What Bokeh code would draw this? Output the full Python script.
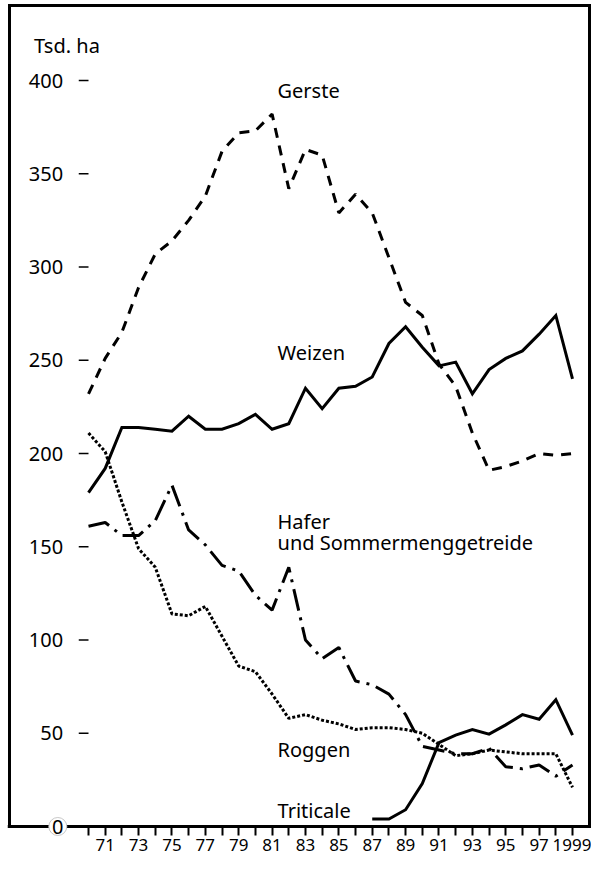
from bokeh.plotting import figure
from bokeh.models import Range1d, FixedTicker
from bokeh.embed import file_html
from bokeh.resources import INLINE
from bokeh.core.properties import value

# ---------------- data (Tsd. ha) ----------------
years = list(range(1970, 2000))
weizen = [179, 192, 214, 214, 213, 212, 220, 213, 213, 216, 221, 213, 216, 235, 224,
          235, 236, 241, 259, 268, 257, 247, 249, 232, 245, 251, 255, 264, 274, 240]
gerste = [232, 251, 265, 289, 307, 314, 325, 338, 362, 372, 373, 382, 342, 363, 360,
          329, 339, 329, 305, 281, 274, 248, 236, 211, 191, 193, 196, 200, 199, 200]
hafer = [161, 163, 156, 156, 164, 183, 159, 151, 140, 137, 124, 116, 139, 100, 90,
         96, 78, 76, 71, 60, 43, 41, 39, 39, 42, 32, 31, 33, 27, 33]
roggen = [211, 201, 174, 149, 139, 114, 113, 118, 102, 86, 83, 71, 58, 60, 57,
          55, 52, 53, 53, 52, 50, 44, 38, 39, 41, 40, 39, 39, 39, 21]
tri_years = list(range(1987, 2000))
triticale = [4, 4, 9, 23, 45, 49, 52, 49.5, 54.5, 60, 57.5, 68, 49]

label_years = list(range(1971, 2000, 2))          # labelled ticks
plain_years = list(range(1970, 2000, 2))          # unlabelled ticks
tick_labels = {yr: str(yr)[2:] for yr in label_years}
tick_labels[1999] = "1999"
y_ticks = [50, 100, 150, 200, 250, 300, 350, 400]
y_tick_labels = [str(v) for v in y_ticks]
unit_label = "Tsd. ha"

# ---------------- layout ----------------
W, H = 591, 861
BL, BR, BT, BB = 7, 0, 3, 0
SX = 16.69           # pixels per year
ZERO_PX = 826        # canvas row of the value 0
SY = (ZERO_PX - 80) / 400.0   # pixels per 1000 ha
frame_w = W - BL - BR
frame_h = H - BT - BB
x_start = 1970 - (88 - BL) / SX
x_end = x_start + frame_w / SX
y_start = -(H - BB - ZERO_PX) / SY
y_end = (ZERO_PX - BT) / SY

FONT = value("Noto Sans")


def rx(px):
    # reference-picture x pixel -> year coordinate
    return 1970 + (px - 88) / 17.13


def ry(py):
    # reference-picture y pixel -> value coordinate
    return (836 - py) / 1.89


def cx(px):
    # canvas x pixel -> year coordinate
    return x_start + (px - BL) / SX


def cy(py):
    # canvas y pixel -> value coordinate
    return (ZERO_PX - py) / SY


p = figure(width=W, height=H, output_backend="svg", toolbar_location=None,
           x_range=Range1d(x_start, x_end), y_range=Range1d(y_start, y_end),
           min_border_left=BL, min_border_right=BR, min_border_top=BT,
           min_border_bottom=BB)
p.grid.visible = False
p.yaxis.visible = False
p.outline_line_color = None
p.background_fill_color = "white"
p.border_fill_color = "white"

ax = p.xaxis[0]
ax.fixed_location = 0
ax.ticker = FixedTicker(ticks=label_years, minor_ticks=plain_years)
ax.major_label_overrides = tick_labels
ax.axis_line_width = 3
ax.axis_line_color = "black"
ax.major_tick_in = 0
ax.major_tick_out = 9
ax.major_tick_line_width = 2
ax.major_tick_line_color = "black"
ax.minor_tick_in = 0
ax.minor_tick_out = 9
ax.minor_tick_line_width = 2
ax.minor_tick_line_color = "black"
ax.major_label_standoff = 3
ax.major_label_text_font = "Noto Sans"
ax.major_label_text_font_size = "17px"
ax.major_label_text_color = "black"

# frame around the chart (left, top, right; bottom is the x axis)
p.line([cx(9), cx(9), cx(589), cx(589)], [0, cy(5), cy(5), 0],
       line_color="black", line_width=3, line_join="miter")

# ---------------- series ----------------
p.line(years, gerste, line_color="black", line_width=3, line_dash="10 8")
p.line(years, weizen, line_color="black", line_width=3, line_join="miter")
p.line(years, hafer, line_color="black", line_width=3, line_dash="22 7 3 7")
p.line(years, roggen, line_color="black", line_width=3, line_dash="3 2")
p.line(tri_years, triticale, line_color="black", line_width=3, line_join="miter")

# ---------------- y tick labels inside the frame ----------------
p.text(x=[rx(62)] * len(y_ticks), y=y_ticks, text=y_tick_labels,
       text_align="right", text_baseline="middle", text_font=FONT,
       text_font_size="20px", text_color="black")
p.segment(x0=[rx(78)] * len(y_ticks), y0=y_ticks, x1=[rx(88)] * len(y_ticks),
          y1=y_ticks, line_color="black", line_width=1.5)
p.scatter(x=[rx(56.5)], y=[0], marker="circle", size=18, fill_color="white",
          line_color="#c8c8c8", line_width=1, level="overlay")
p.text(x=[rx(56.5)], y=[0], text=["0"], text_align="center",
       text_baseline="middle", text_font=FONT, text_font_size="20px",
       text_color="black", level="overlay")
p.text(x=[rx(32)], y=[ry(45)], text=[unit_label], text_align="left",
       text_baseline="middle", text_font=FONT, text_font_size="20px")

# ---------------- series names ----------------
names = ["Gerste", "Weizen", "Hafer", "und Sommermenggetreide", "Roggen", "Triticale"]
name_px = [282, 282, 282, 282, 282, 282]
name_py = [90, 356, 527, 548, 758, 820]
p.text(x=[rx(v) for v in name_px], y=[ry(v) for v in name_py], text=names,
       text_align="left", text_baseline="middle", text_font=FONT,
       text_font_size="20px", text_color="black")

open("out.html", "w").write(file_html(p, INLINE))
